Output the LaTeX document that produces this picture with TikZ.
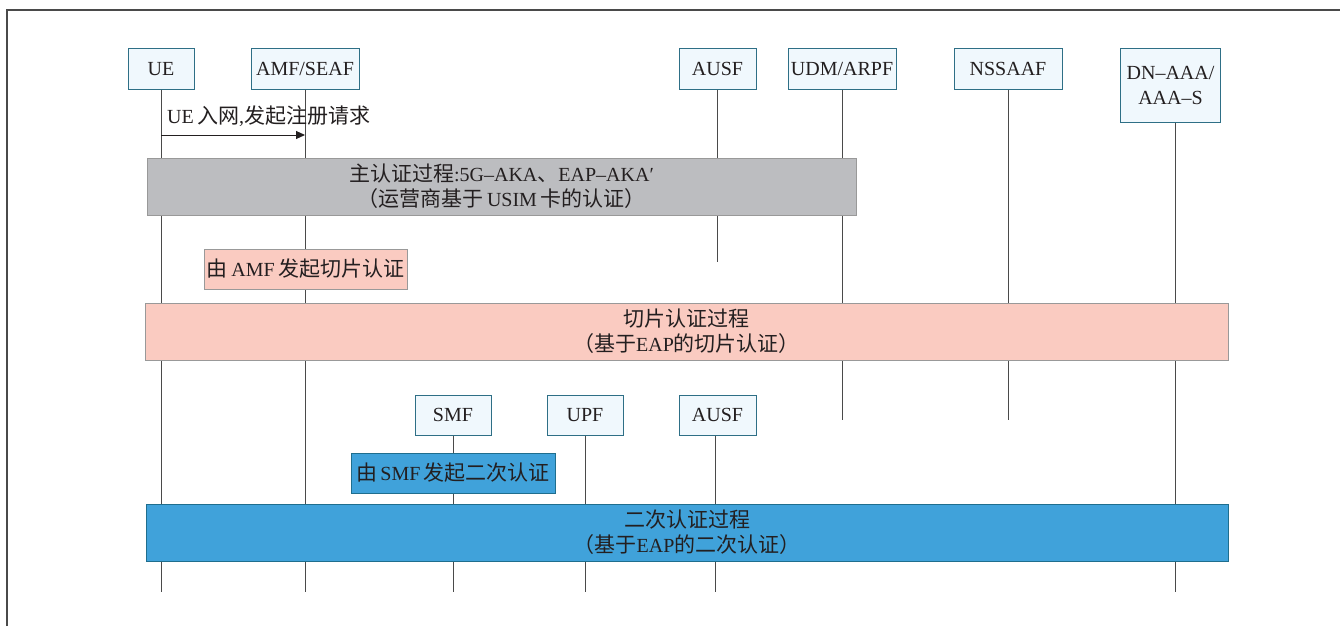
\documentclass[tikz,border=0pt]{standalone}
\usepackage{fontspec}
\setmainfont{Liberation Serif}
\newfontfamily\cjk{Noto Sans CJK SC}[Scale=1.05]
\usetikzlibrary{arrows.meta}
\newcommand\zh[1]{{\cjk #1}}
\definecolor{nodefill}{HTML}{F0F8FD}
\definecolor{nodeline}{HTML}{2E6F86}
\definecolor{grayfill}{HTML}{BCBDC0}
\definecolor{grayline}{HTML}{999999}
\definecolor{pinkfill}{HTML}{FACBC1}
\definecolor{bluefill}{HTML}{40A2DA}
\definecolor{blueline}{HTML}{1F6E8E}
\definecolor{lifecol}{HTML}{4A4A4A}
\definecolor{txt}{HTML}{231F20}
\tikzset{
  every node/.style={font=\fontsize{20}{25}\selectfont, text=txt},
  entity/.style={draw=nodeline, fill=nodefill, line width=1pt, inner sep=0pt, minimum height=40pt, align=center},
  lifeline/.style={draw=lifecol, line width=1pt},
  msg/.style={draw=txt, line width=1pt, -{Triangle[length=9pt,width=8pt]}},
  graybar/.style={draw=grayline, fill=grayfill, line width=1pt, inner sep=0pt, minimum height=57pt, align=center},
  pinkbar/.style={draw=grayline, fill=pinkfill, line width=1pt, inner sep=0pt, align=center},
  bluebar/.style={draw=blueline, fill=bluefill, line width=1pt, inner sep=0pt, align=center},
  frameline/.style={draw=lifecol, line width=1.5pt}
}
\begin{document}
\begin{tikzpicture}[x=1pt,y=-1pt]
\useasboundingbox (0,0) rectangle (1340,626);
\fill[white] (0,0) rectangle (1340,626);
% frame
\coordinate (f1) at (7,626);
\coordinate (f2) at (7,10);
\coordinate (f3) at (1340,10);
\draw[frameline] (f1) -- (f2) -- (f3);

% entities (top)
\node[entity, minimum width=66pt] (ue) at (161,69) {UE};
\node[entity, minimum width=108pt] (amf) at (305,69) {AMF/SEAF};
\node[entity, minimum width=77pt] (ausf) at (717.5,69) {AUSF};
\node[entity, minimum width=108pt] (udm) at (842,69) {UDM/ARPF};
\node[entity, minimum width=108pt] (nssaaf) at (1008,69) {NSSAAF};
\node[entity, minimum width=100pt, minimum height=73pt] (dn) at (1170.5,85.5) {DN–AAA/\\AAA–S};

% entities (lower)
\node[entity, minimum width=76pt] (smf) at (453,415) {SMF};
\node[entity, minimum width=76pt] (upf) at (585,415) {UPF};
\node[entity, minimum width=77pt] (ausfb) at (717.5,415) {AUSF};

% lifeline ends
\coordinate (ueE) at (161,592);
\coordinate (amfE) at (305,592);
\coordinate (ausfE) at (717.5,262);
\coordinate (udmE) at (842,420);
\coordinate (nssaafE) at (1008,420);
\coordinate (dnE) at (1175,592);
\coordinate (smfE) at (453,592);
\coordinate (upfE) at (585,592);
\coordinate (ausfbE) at (715,592);

\draw[lifeline] (ue.south) -- (ueE);
\draw[lifeline] (amf.south) -- (amfE);
\draw[lifeline] (ausf.south) -- (ausfE);
\draw[lifeline] (udm.south) -- (udmE);
\draw[lifeline] (nssaaf.south) -- (nssaafE);
\draw[lifeline] (dn.south -| dnE) -- (dnE);
\draw[lifeline] (smf.south) -- (smfE);
\draw[lifeline] (upf.south) -- (upfE);
\draw[lifeline] (ausfb.south -| ausfbE) -- (ausfbE);

% message
\coordinate (m1s) at (161,135);
\coordinate (m1e) at (305,135);
\draw[msg] (m1s) -- (m1e);
\node[anchor=west, inner sep=0pt] (m1l) at (167,116) {UE\,\zh{入网},\zh{发起注册请求}};

% bars
\node[graybar, minimum width=709pt] (p1) at (501.5,186.5)
  {\zh{主认证过程}:5G–AKA\zh{、}EAP–AKA′\\\zh{（运营商基于}\,USIM\,\zh{卡的认证）}};
\node[pinkbar, minimum width=203pt, minimum height=40pt] (l2) at (305.5,269)
  {\zh{由}\,AMF\,\zh{发起切片认证}};
\node[pinkbar, minimum width=1083pt, minimum height=57pt] (p2) at (686.5,331.5)
  {\zh{切片认证过程}\\\zh{（基于}EAP\zh{的切片认证）}};
\node[bluebar, minimum width=204pt, minimum height=40pt] (l3) at (453,473)
  {\zh{由}\,SMF\,\zh{发起二次认证}};
\node[bluebar, minimum width=1082pt, minimum height=57pt] (p3) at (687,532.5)
  {\zh{二次认证过程}\\\zh{（基于}EAP\zh{的二次认证）}};
\end{tikzpicture}
\end{document}
